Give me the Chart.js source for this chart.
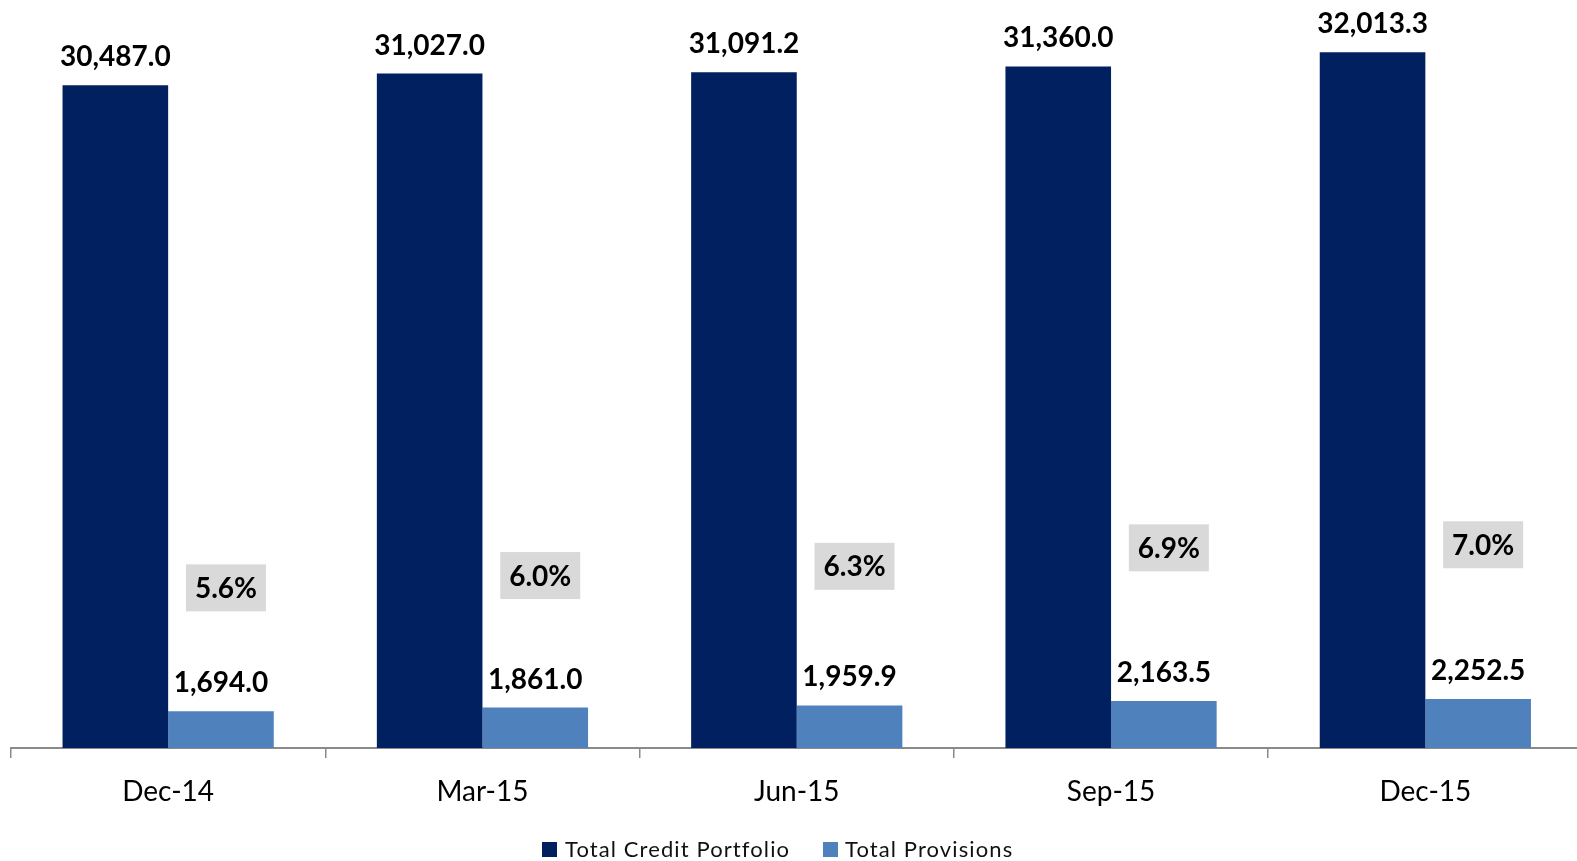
<!DOCTYPE html>
<html>
<head>
<meta charset="utf-8">
<title>Total Credit Portfolio and Total Provisions</title>
<script src="https://cdn.jsdelivr.net/npm/chart.js@4.4.0/dist/chart.umd.min.js"></script>
<style>
  html, body { margin: 0; padding: 0; background: #ffffff; overflow: hidden; }
  #wrap { position: relative; width: 1577px; height: 861px; overflow: hidden; }
  #c { position: absolute; left: 0; top: 0; }
  .lg-box { position: absolute; top: 842px; width: 15px; height: 15px; }
  .lg-text { position: absolute; top: 836px; font-family: Lato, sans-serif; font-size: 22px;
             line-height: 26px; color: #111; white-space: nowrap; letter-spacing: 1.1px; }
</style>
</head>
<body>
<div id="wrap">
  <canvas id="c" width="1592" height="861"></canvas>
  <div id="legend"></div>
</div>
<script>
// Quarter-end values (millions)
const quarters = ['Dec-14', 'Mar-15', 'Jun-15', 'Sep-15', 'Dec-15'];
const creditPortfolio = [30487.0, 31027.0, 31091.2, 31360.0, 32013.3];
const provisions = [1694.0, 1861.0, 1959.9, 2163.5, 2252.5];
// Provisions as a share of the credit portfolio (%)
const provisionRatio = [5.6, 6.0, 6.3, 6.9, 7.0];
const seriesNames = ['Total Credit Portfolio', 'Total Provisions'];

const DARK = '#002060';
const LIGHT = '#4F81BD';
const FONT = 'Lato, "Open Sans", sans-serif';

const fmt = v => v.toLocaleString('en-US', { minimumFractionDigits: 1, maximumFractionDigits: 1 });

// Draws value labels above the bars and the boxed ratio labels
const labelPlugin = {
  id: 'valueLabels',
  afterDatasetsDraw(chart) {
    const ctx = chart.ctx;
    ctx.save();
    ctx.fillStyle = '#000';
    ctx.font = 'bold 28px ' + FONT;
    ctx.textAlign = 'center';
    ctx.textBaseline = 'alphabetic';
    [0, 1].forEach(di => {
      const meta = chart.getDatasetMeta(di);
      meta.data.forEach((bar, i) => {
        const v = chart.data.datasets[di].data[i];
        ctx.fillText(fmt(v), bar.x, bar.y - 19);
      });
    });

    const ratioMeta = chart.getDatasetMeta(2);
    const provMeta = chart.getDatasetMeta(1);
    ratioMeta.data.forEach((pt, i) => {
      const v = chart.data.datasets[2].data[i];
      const cx = provMeta.data[i].x + 5;
      const cy = pt.y;
      const w = 80, h = 47;
      ctx.fillStyle = '#D9D9D9';
      ctx.fillRect(cx - w / 2, cy - h / 2, w, h);
      ctx.fillStyle = '#000';
      ctx.fillText(v.toFixed(1) + '%', cx, cy + 10);
    });
    ctx.restore();
  }
};

const chart = new Chart(document.getElementById('c'), {
  type: 'bar',
  data: {
    labels: quarters,
    datasets: [
      { label: seriesNames[0], data: creditPortfolio, backgroundColor: DARK, yAxisID: 'y',
        categoryPercentage: 0.672, barPercentage: 1.0, order: 2 },
      { label: seriesNames[1], data: provisions, backgroundColor: LIGHT, yAxisID: 'y',
        categoryPercentage: 0.672, barPercentage: 1.0, order: 2 },
      { type: 'line', label: 'Provisions / Portfolio', data: provisionRatio, yAxisID: 'y1',
        showLine: false, pointRadius: 0, pointHoverRadius: 0, borderColor: 'transparent', order: 1 }
    ]
  },
  options: {
    responsive: false,
    animation: false,
    devicePixelRatio: 1,
    layout: { padding: { left: 11, right: 9.5, top: 9, bottom: 0 } },
    plugins: {
      legend: { display: false },
      tooltip: { enabled: false }
    },
    scales: {
      x: {
        offset: true,
        grid: {
          offset: true,
          drawOnChartArea: false,
          drawTicks: true,
          tickLength: 10,
          tickColor: '#8a8a8a',
          lineWidth: 1.5
        },
        border: { display: true, color: '#8a8a8a', width: 2 },
        ticks: {
          color: '#000',
          font: { family: FONT, size: 28 },
          padding: 17,
          maxRotation: 0
        },
        afterFit(axis) { axis.height = 113; }
      },
      y: { display: false, min: 0, max: 34000 },
      y1: { display: false, min: 0.4, max: 24.4 }
    }
  },
  plugins: [labelPlugin]
});

// Legend built from the bar datasets
const legendEl = document.getElementById('legend');
const legendPos = [{ box: 542, text: 565 }, { box: 823, text: 845 }];
chart.data.datasets.slice(0, 2).forEach((ds, i) => {
  const b = document.createElement('div');
  b.className = 'lg-box';
  b.style.left = legendPos[i].box + 'px';
  b.style.background = ds.backgroundColor;
  const t = document.createElement('div');
  t.className = 'lg-text';
  t.style.left = legendPos[i].text + 'px';
  t.textContent = ds.label;
  legendEl.appendChild(b);
  legendEl.appendChild(t);
});
</script>
</body>
</html>
